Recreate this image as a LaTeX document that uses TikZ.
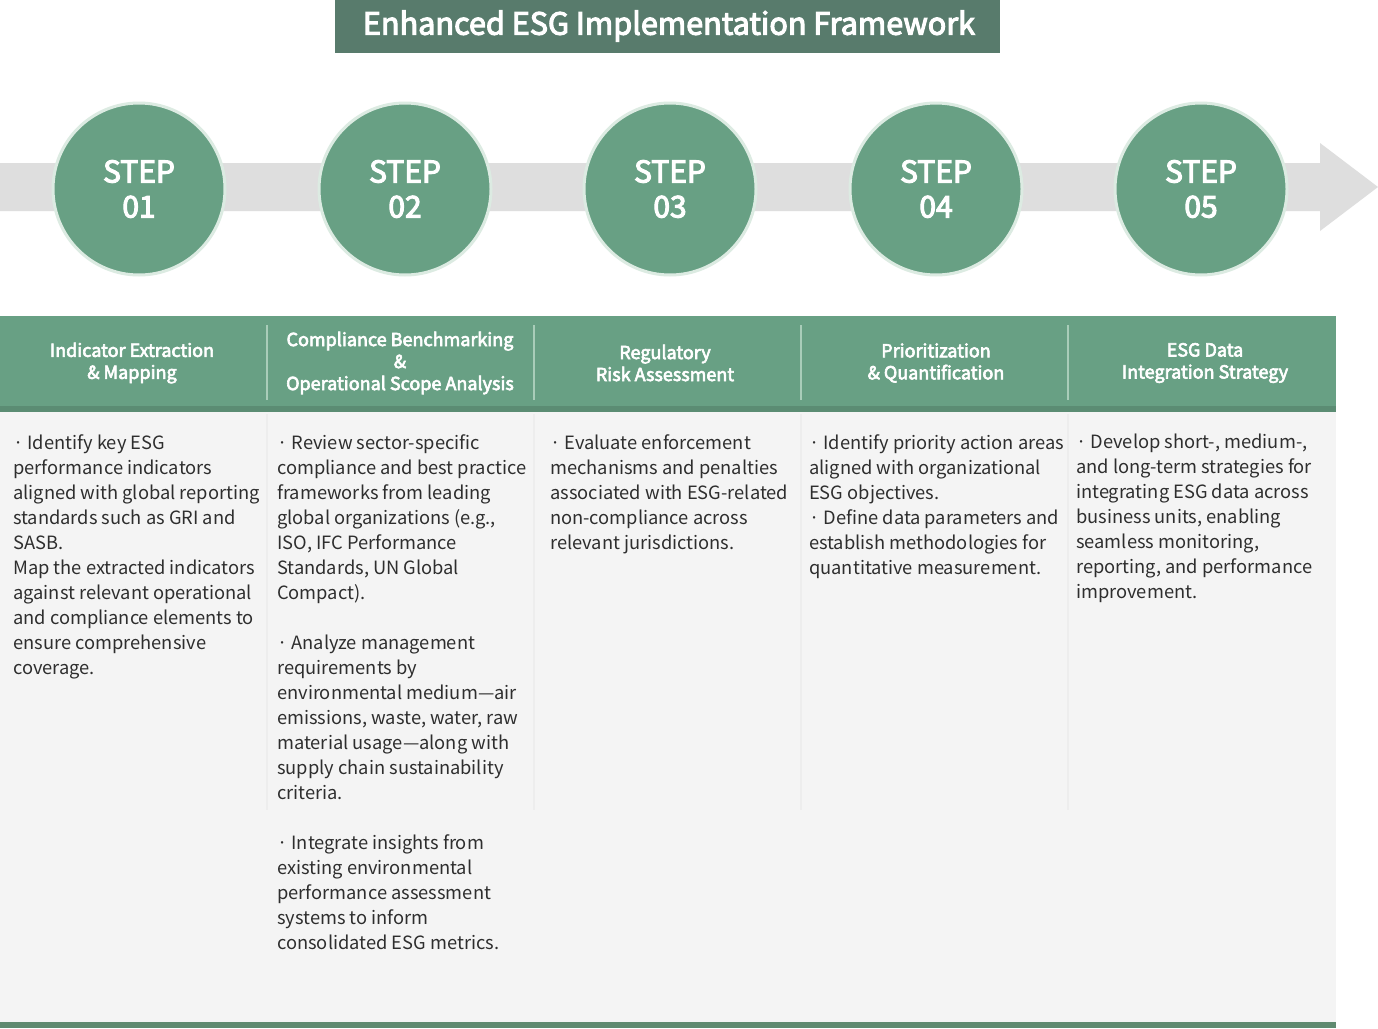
\documentclass[tikz,border=0pt]{standalone}
\usepackage{fontspec}
\setmainfont{Noto Sans CJK KR}
\newfontfamily\medfont{Noto Sans CJK KR}[FakeBold=3.5]
\definecolor{titlebg}{HTML}{587B6C}
\definecolor{stepgreen}{HTML}{68A084}
\definecolor{stepring}{HTML}{DCEBE2}
\definecolor{arrowgray}{HTML}{DEDEDE}
\definecolor{darkstripe}{HTML}{5B8C73}
\definecolor{sepline}{HTML}{A9CDB9}
\definecolor{bodybg}{HTML}{F4F4F4}
\definecolor{bodysep}{HTML}{EDEDED}
\definecolor{textgray}{HTML}{2E2E2E}
\definecolor{bottomline}{HTML}{5F8A70}
\begin{document}
\begin{tikzpicture}[x=1pt,y=-1pt,
  stepcircle/.style={circle, fill=stepgreen, draw=stepring, line width=3pt, minimum size=172pt, inner sep=0pt,
    text=white, font=\fontsize{30}{35}\selectfont\medfont, align=center},
  headtext/.style={text=white, font=\fontsize{18}{22}\selectfont\medfont, align=center, inner sep=0pt},
  bodytext/.style={text=textgray, font=\fontsize{18.3}{25}\selectfont, align=left, anchor=north west, inner sep=0pt},
  colsep/.style={draw=sepline, line width=1.5pt},
  bodycolsep/.style={draw=bodysep, line width=1.5pt}]
\useasboundingbox (0,0) rectangle (1378,1028);
\fill[white] (0,0) rectangle (1378,1028);
% title
\fill[titlebg] (335,0) rectangle (1000,53);
\node[text=white, font=\fontsize{30.6}{34}\selectfont\medfont] (title) at (669,26) {Enhanced ESG Implementation Framework};
% arrow band
\fill[arrowgray] (0,163) -- (1320,163) -- (1320,143) -- (1378,187) -- (1320,231) -- (1320,211) -- (0,211) -- cycle;
% step circles
\node[stepcircle] (s1) at (139,189) {STEP\\01};
\node[stepcircle] (s2) at (405,189) {STEP\\02};
\node[stepcircle] (s3) at (670,189) {STEP\\03};
\node[stepcircle] (s4) at (936,189) {STEP\\04};
\node[stepcircle] (s5) at (1201,189) {STEP\\05};
% header
\fill[stepgreen] (0,316) rectangle (1336,412);
\fill[darkstripe] (0,406) rectangle (1336,412);
\foreach \xx in {267,534,801,1068} {\draw[colsep] (\xx,325) -- (\xx,400);}
\node[headtext] (h1) at (132,363) {Indicator Extraction\\\& Mapping};
\node[headtext] (h2) at (400,363) {Compliance Benchmarking\\\&\\Operational Scope Analysis};
\node[headtext] (h3) at (665,363) {Regulatory\\Risk Assessment};
\node[headtext] (h4) at (936,363) {Prioritization\\\& Quantification};
\node[headtext] (h5) at (1205,363) {ESG Data\\Integration Strategy};
% body
\fill[bodybg] (0,412) rectangle (1336,1022);
\foreach \xx in {267,534,801,1068} {\draw[bodycolsep] (\xx,414) -- (\xx,810);}
\fill[bottomline] (0,1022) rectangle (1336,1028);
\node[bodytext] (b1) at (13,434) {· Identify key ESG\\performance indicators\\aligned with global reporting\\standards such as GRI and\\SASB.\\Map the extracted indicators\\against relevant operational\\and compliance elements to\\ensure comprehensive\\coverage.};
\node[bodytext] (b2) at (277,434) {· Review sector-specific\\compliance and best practice\\frameworks from leading\\global organizations (e.g.,\\ISO, IFC Performance\\Standards, UN Global\\Compact).\\\mbox{}\\· Analyze management\\requirements by\\environmental medium—air\\emissions, waste, water, raw\\material usage—along with\\supply chain sustainability\\criteria.\\\mbox{}\\· Integrate insights from\\existing environmental\\performance assessment\\systems to inform\\consolidated ESG metrics.};
\node[bodytext] (b3) at (550,434) {· Evaluate enforcement\\mechanisms and penalties\\associated with ESG-related\\non-compliance across\\relevant jurisdictions.};
\node[bodytext] (b4) at (809,434) {· Identify priority action areas\\aligned with organizational\\ESG objectives.\\· Define data parameters and\\establish methodologies for\\quantitative measurement.};
\node[bodytext] (b5) at (1076,434) {· Develop short-, medium-,\\and long-term strategies for\\integrating ESG data across\\business units, enabling\\seamless monitoring,\\reporting, and performance\\improvement.};
\end{tikzpicture}
\end{document}
